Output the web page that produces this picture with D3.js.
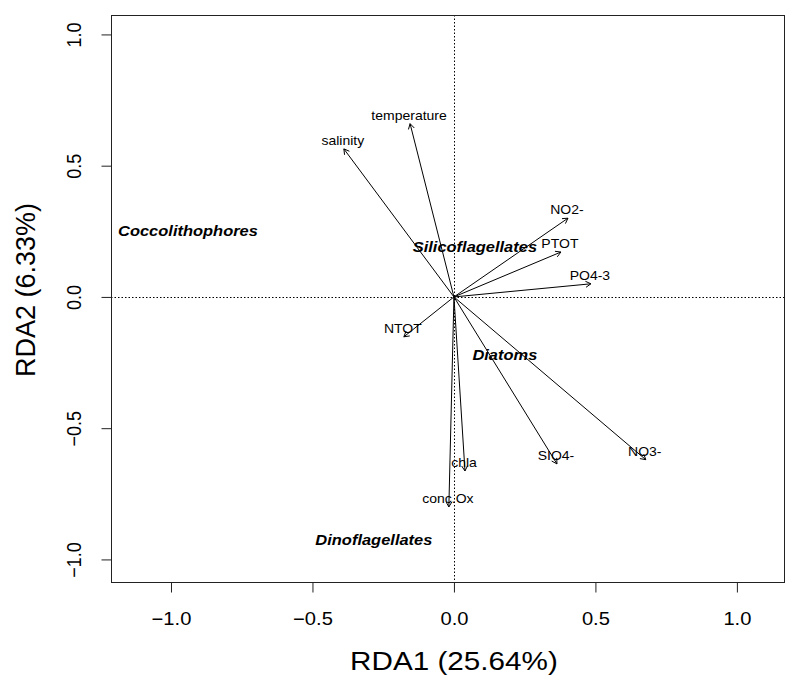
<!DOCTYPE html>
<html>
<head>
<meta charset="utf-8">
<script src="https://cdn.jsdelivr.net/npm/d3@7"></script>
<style>
  body { margin: 0; background: #fff; }
  svg { display: block; font-family: Arial, "Liberation Sans", sans-serif; }
</style>
</head>
<body>
<div class="container"></div>
<script>
// environmental variables (RDA biplot arrows)
const envNames = ["temperature", "salinity", "NO2-", "PTOT", "PO4-3", "NTOT", "NO3-", "SIO4-", "chla", "conc.Ox"];
const envRDA1 = [-0.155, -0.389, 0.403, 0.378, 0.484, -0.177, 0.678, 0.364, 0.039, -0.018];
const envRDA2 = [0.660, 0.564, 0.300, 0.171, 0.050, -0.152, -0.620, -0.636, -0.663, -0.800];

// species groups
const groupNames = ["Coccolithophores", "Silicoflagellates", "Diatoms", "Dinoflagellates"];
const groupRDA1 = [-0.94, 0.074, 0.18, -0.283];
const groupRDA2 = [0.251, 0.19, -0.221, -0.926];

const ticks = [-1.0, -0.5, 0.0, 0.5, 1.0];
const xTitle = "RDA1 (25.64%)";
const yTitle = "RDA2 (6.33%)";

const width = 786, height = 675;
const plot = { left: 111, right: 785, top: 15, bottom: 582 };
const stretch = 1.12; // the original glyphs are drawn a little wide

const x = d3.scaleLinear().domain([-1.212, 1.17]).range([plot.left, plot.right]);
const y = d3.scaleLinear().domain([-1.086, 1.074]).range([plot.bottom, plot.top]);

const svg = d3.select(".container")
  .append("svg")
    .attr("width", width)
    .attr("height", height);

// zero lines
const zero = svg.append("g")
  .attr("stroke", "#000")
  .attr("stroke-width", 1)
  .attr("stroke-dasharray", "1.5,2");
zero.append("line")
  .attr("x1", plot.left).attr("x2", plot.right)
  .attr("y1", Math.round(y(0)) + 0.5).attr("y2", Math.round(y(0)) + 0.5);
zero.append("line")
  .attr("x1", Math.round(x(0)) + 0.5).attr("x2", Math.round(x(0)) + 0.5)
  .attr("y1", plot.top).attr("y2", plot.bottom);

// arrows
const env = envNames.map((name, i) => ({ name, a: envRDA1[i], b: envRDA2[i] }));
const arrowG = svg.append("g")
  .attr("stroke", "#000")
  .attr("stroke-width", 1)
  .attr("fill", "none");

function arrowPath(d) {
  const x0 = x(0), y0 = y(0), x1 = x(d.a), y1 = y(d.b);
  const ang = Math.atan2(y1 - y0, x1 - x0);
  const len = 6, spread = Math.PI / 6;
  const h1 = [x1 - len * Math.cos(ang - spread), y1 - len * Math.sin(ang - spread)];
  const h2 = [x1 - len * Math.cos(ang + spread), y1 - len * Math.sin(ang + spread)];
  return `M${x0},${y0}L${x1},${y1}M${h1[0]},${h1[1]}L${x1},${y1}L${h2[0]},${h2[1]}`;
}

arrowG.selectAll("path")
  .data(env)
  .join("path")
    .attr("d", arrowPath);

svg.append("g")
  .selectAll("text")
  .data(env)
  .join("text")
    .attr("transform", d => `translate(${x(d.a) - 1},${y(d.b) - 8}) scale(${stretch},1)`)
    .attr("text-anchor", "middle")
    .attr("dominant-baseline", "central")
    .attr("font-size", 12.5)
    .attr("fill", "#000")
    .text(d => d.name);

// species groups
const groups = groupNames.map((name, i) => ({ name, a: groupRDA1[i], b: groupRDA2[i] }));
svg.append("g")
  .selectAll("text")
  .data(groups)
  .join("text")
    .attr("transform", d => `translate(${x(d.a)},${y(d.b)}) scale(${stretch},1)`)
    .attr("text-anchor", "middle")
    .attr("dominant-baseline", "central")
    .attr("font-size", 14.7)
    .attr("font-weight", "bold")
    .attr("font-style", "italic")
    .attr("fill", "#000")
    .text(d => d.name);

// frame
svg.append("rect")
  .attr("x", plot.left + 0.5)
  .attr("y", plot.top + 0.5)
  .attr("width", plot.right - plot.left - 1)
  .attr("height", plot.bottom - plot.top)
  .attr("fill", "none")
  .attr("stroke", "#222")
  .attr("stroke-width", 1);

// axes
const xAxis = svg.append("g")
  .attr("transform", `translate(0,${plot.bottom + 0.5})`)
  .call(d3.axisBottom(x).tickValues(ticks).tickSize(10).tickFormat(d3.format(".1f")));
xAxis.select(".domain").remove();
xAxis.selectAll("line").attr("stroke", "#222");
xAxis.selectAll("text")
  .attr("font-size", 18)
  .attr("fill", "#000")
  .attr("y", 43)
  .attr("dy", null)
  .attr("transform", `scale(${stretch},1)`);

const yAxis = svg.append("g")
  .attr("transform", `translate(${plot.left + 0.5},0)`)
  .call(d3.axisLeft(y).tickValues(ticks).tickSize(10).tickFormat(d3.format(".1f")));
yAxis.select(".domain").remove();
yAxis.selectAll("line").attr("stroke", "#222");
yAxis.selectAll("text")
  .attr("font-size", 18)
  .attr("fill", "#000")
  .attr("text-anchor", "middle")
  .attr("dy", null)
  .attr("x", 0)
  .attr("y", 0)
  .attr("transform", `translate(-31,0) scale(${stretch},1) rotate(-90)`);

// axis titles
svg.append("text")
  .attr("transform", `translate(454,670) scale(${stretch},1)`)
  .attr("text-anchor", "middle")
  .attr("font-size", 26.5)
  .attr("fill", "#000")
  .text(xTitle);

svg.append("text")
  .attr("transform", `translate(35,290) rotate(-90)`)
  .attr("text-anchor", "middle")
  .attr("font-size", 27)
  .attr("fill", "#000")
  .text(yTitle);
</script>
</body>
</html>
